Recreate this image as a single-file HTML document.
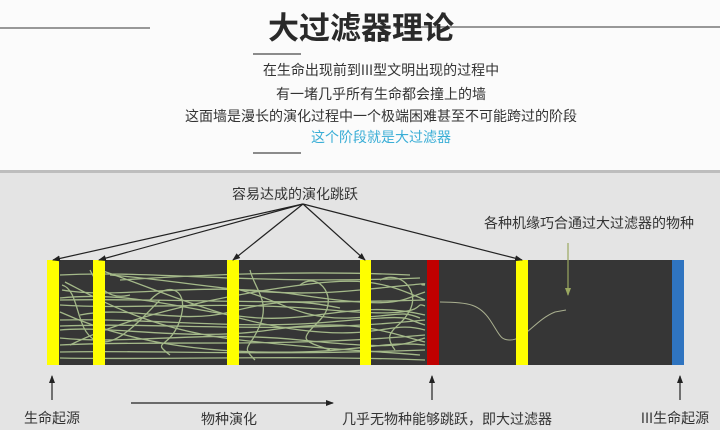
<!DOCTYPE html>
<html><head><meta charset="utf-8"><style>
body{margin:0;width:720px;height:430px;overflow:hidden;background:#fff;font-family:"Liberation Sans","Noto Sans CJK SC",sans-serif}
</style></head><body>
<svg width="720" height="430" xmlns="http://www.w3.org/2000/svg" style="display:block">
<defs>
<marker id="ah" markerWidth="8" markerHeight="8" refX="7" refY="4" orient="auto" markerUnits="userSpaceOnUse"><path d="M0,1 L8,4 L0,7z" fill="#222"/></marker>
<marker id="ag" markerWidth="8" markerHeight="8" refX="7" refY="4" orient="auto" markerUnits="userSpaceOnUse"><path d="M0,1 L8,4 L0,7z" fill="#9aa860"/></marker>
</defs>
<rect x="0" y="0" width="720" height="170" fill="#fbfbfb"/>
<rect x="0" y="170" width="720" height="3" fill="#bdbdbd"/>
<rect x="0" y="173" width="720" height="257" fill="#e4e4e4"/>
<line x1="0" y1="28" x2="150" y2="28" stroke="#777" stroke-width="1.5"/>
<line x1="395" y1="27" x2="720" y2="27" stroke="#777" stroke-width="1.5"/>
<text x="361" y="39" text-anchor="middle" font-size="31" font-weight="bold" fill="#2a2a2a" font-family="Noto Sans CJK SC,sans-serif">大过滤器理论</text>
<line x1="253" y1="54" x2="301" y2="54" stroke="#666" stroke-width="1.5"/>
<g font-size="14" fill="#333" text-anchor="middle" font-family="Noto Sans CJK SC,sans-serif">
<text x="381" y="75">在生命出现前到III型文明出现的过程中</text>
<text x="381" y="99">有一堵几乎所有生命都会撞上的墙</text>
<text x="381" y="121">这面墙是漫长的演化过程中一个极端困难甚至不可能跨过的阶段</text>
<text x="381" y="142" fill="#3aaed6">这个阶段就是大过滤器</text>
</g>
<line x1="253" y1="153" x2="301" y2="153" stroke="#666" stroke-width="1.5"/>

<rect x="47" y="260" width="637" height="105" fill="#363636"/>
<g fill="none" stroke="#b8d098" stroke-width="1.3" opacity="0.85">
<path d="M60,275 C150,270 250,285 420,278"/>
<path d="M62,290 C120,300 200,280 300,295 S400,300 425,292"/>
<path d="M60,305 C140,310 220,300 330,310 S410,300 425,306"/>
<path d="M60,320 C150,318 240,330 330,322 S400,318 425,325"/>
<path d="M60,338 C130,345 200,330 300,340 S400,345 425,338"/>
<path d="M60,352 C150,350 260,356 425,350"/>
<path d="M65,282 C100,300 150,330 240,340 S360,350 420,355"/>
<path d="M70,345 C120,320 200,300 280,288 S380,280 425,300"/>
<path d="M60,298 C140,290 200,315 260,318 S360,300 425,315"/>
<path d="M60,330 C110,325 190,342 270,330 S380,330 425,342"/>
<path d="M100,270 C160,290 220,320 300,330 S390,320 425,330"/>
<path d="M60,312 C100,330 160,350 260,352 S380,340 425,345"/>
<path d="M110,275 C200,282 260,300 360,290 S410,285 425,285"/>
<path d="M62,285 C80,290 75,330 95,340 S140,320 160,300"/>
<path d="M150,300 C170,280 190,290 180,320 S150,340 170,355"/>
<path d="M300,285 C320,270 340,300 320,320 S300,340 330,350"/>
<path d="M380,280 C400,270 420,290 410,310 S380,330 395,350"/>
<path d="M240,290 C280,300 300,320 350,318 S400,310 420,318"/>
<path d="M60,358 C150,360 300,355 425,360"/>
<path d="M80,315 C130,305 180,325 230,312 S300,300 340,308"/>
<path d="M90,270 C100,290 110,300 130,295"/>
<path d="M250,270 C255,290 270,300 260,325 S240,345 255,360"/>
<path d="M60,300 C160,298 260,305 425,300"/>
<path d="M60,326 C170,322 280,335 425,320"/>
<path d="M60,345 C160,340 280,348 425,335"/>
<path d="M120,280 C200,275 300,270 410,275"/>
</g>
<path d="M440,302 C470,302 480,305 490,320 S500,340 510,340 C525,340 535,320 555,312 L566,310" fill="none" stroke="#aab090" stroke-width="1"/>
<rect x="47" y="260" width="12" height="105" fill="#ffff00"/>
<rect x="93" y="260" width="12" height="105" fill="#ffff00"/>
<rect x="227" y="260" width="12" height="105" fill="#ffff00"/>
<rect x="360" y="260" width="11" height="105" fill="#ffff00"/>
<rect x="427" y="260" width="12" height="105" fill="#c00000"/>
<rect x="516" y="260" width="12" height="105" fill="#ffff00"/>
<rect x="672" y="260" width="12" height="105" fill="#2f74c0"/>

<g stroke="#222" stroke-width="1.2" marker-end="url(#ah)">
<line x1="303" y1="204" x2="53" y2="260"/>
<line x1="303" y1="204" x2="99" y2="260"/>
<line x1="303" y1="204" x2="233" y2="260"/>
<line x1="303" y1="204" x2="365" y2="260"/>
<line x1="303" y1="204" x2="522" y2="260"/>
<line x1="52" y1="400" x2="52" y2="376"/>
<line x1="432" y1="400" x2="432" y2="376"/>
<line x1="680" y1="400" x2="680" y2="376"/>
<line x1="131" y1="403" x2="333" y2="403"/>
</g>
<line x1="568" y1="243" x2="568" y2="295" stroke="#9aa860" stroke-width="1.2" marker-end="url(#ag)"/>
<g font-size="14" fill="#333" font-family="Noto Sans CJK SC,sans-serif">
<text x="295" y="199" text-anchor="middle">容易达成的演化跳跃</text>
<text x="589" y="228" text-anchor="middle">各种机缘巧合通过大过滤器的物种</text>
<text x="52" y="423" text-anchor="middle">生命起源</text>
<text x="229" y="424" text-anchor="middle">物种演化</text>
<text x="447" y="424" text-anchor="middle">几乎无物种能够跳跃，即大过滤器</text>
<text x="675" y="423" text-anchor="middle">III生命起源</text>
</g>
</svg>
</body></html>
